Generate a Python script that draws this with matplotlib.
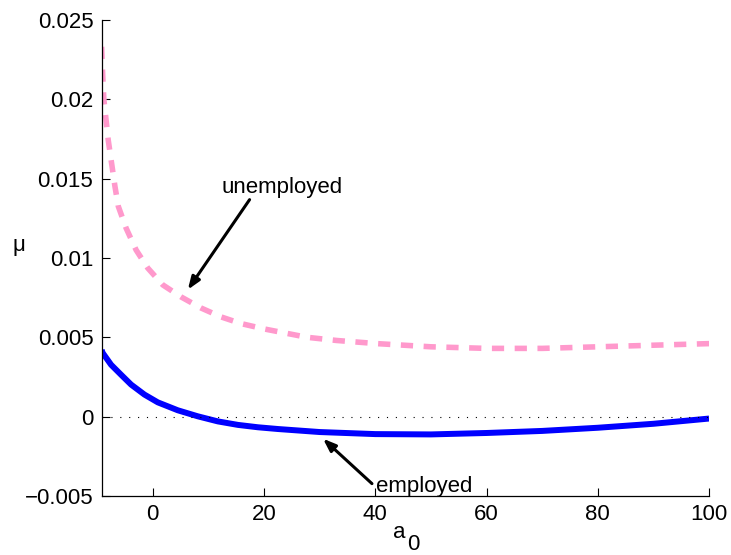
import matplotlib
matplotlib.use("Agg")
import matplotlib.pyplot as plt
import numpy as np

plt.rcParams['font.family'] = ['Liberation Sans', 'DejaVu Sans']

# unemployed (pink dashed)
x_unemp = [-9.2, -9.0, -8.8, -8.0, -6.8, -6.2, -4.8, -3.0, -0.9, 1.8, 5.1, 8.7,
           12.3, 15.9, 20.1, 27.7, 33.0, 40.3, 50.0, 60.0, 70.0, 80.0, 90.0, 100.0]
mu_unemp = [0.0233, 0.0215, 0.0200, 0.0174, 0.0145, 0.01325, 0.01188, 0.0105,
            0.00936, 0.0083, 0.00754, 0.00684, 0.00628, 0.00586, 0.00552, 0.0050,
            0.0048, 0.0046, 0.0044, 0.0043, 0.0043, 0.0044, 0.0045, 0.0046]

# employed (blue solid)
x_emp = [-9.2, -9.0, -7.5, -5.7, -3.9, -1.5, 0.9, 4.5, 8.1, 11.7, 15.3, 18.9, 22.5,
         30.0, 40.0, 50.0, 60.0, 70.0, 80.0, 90.0, 100.0]
mu_emp = [0.0042, 0.00401, 0.00327, 0.00264, 0.00202, 0.00139, 0.0009, 0.0004,
          0.00002, -0.0003, -0.00052, -0.00067, -0.00078, -0.00097, -0.0011,
          -0.00112, -0.00103, -0.0009, -0.0007, -0.00045, -0.00012]

xticks = [0, 20, 40, 60, 80, 100]
yticks = [-0.005, 0, 0.005, 0.01, 0.015, 0.02, 0.025]
ytick_labels = ['\u22120.005', '0', '0.005', '0.01', '0.015', '0.02', '0.025']

fig = plt.figure(figsize=(7.31, 5.55), dpi=100)
ax = fig.add_axes([0.139, 0.1063, 0.831, 0.858])

ax.plot(x_unemp, mu_unemp, color='#ff99cc', lw=4, linestyle=(0, (2.2, 1.9)),
        dash_capstyle='butt')
ax.plot(x_emp, mu_emp, color='#0000ff', lw=4.3, solid_capstyle='butt')
ax.axhline(0, color='black', lw=0.8, linestyle=(0, (1, 7)))

ax.set_xlim(-9.2, 100)
ax.set_ylim(-0.005, 0.025)
ax.set_xticks(xticks)
ax.set_xticklabels([str(t) for t in xticks])
ax.set_yticks(yticks)
ax.set_yticklabels(ytick_labels)
ax.tick_params(direction='in', length=6, width=0.8, labelsize=16, pad=6)

for s in ['top', 'right']:
    ax.spines[s].set_visible(False)
for s in ['left', 'bottom']:
    ax.spines[s].set_linewidth(0.9)

# axis labels
fig.text(12 / 731, 1 - 246 / 555, '\u03bc', fontsize=16, ha='left', va='center')
fig.text(393 / 731, 1 - 533 / 555, 'a', fontsize=16, ha='left', va='center')
fig.text(407 / 731, 1 - 544 / 555, '0', fontsize=16, ha='left', va='center')

arrow = dict(arrowstyle='-|>,head_length=0.75,head_width=0.28', color='black',
             lw=2.2, shrinkA=0, shrinkB=0)
ax.annotate('', xy=(6.3, 0.0080), xytext=(17.4, 0.01367), arrowprops=arrow)
ax.text(23.2, 0.01442, 'unemployed', fontsize=16, ha='center', va='center')
ax.annotate('', xy=(30.6, -0.00139), xytext=(39.4, -0.00422), arrowprops=arrow)
ax.text(48.7, -0.0044, 'employed', fontsize=16, ha='center', va='center')

fig.savefig('out.png', dpi=100)
